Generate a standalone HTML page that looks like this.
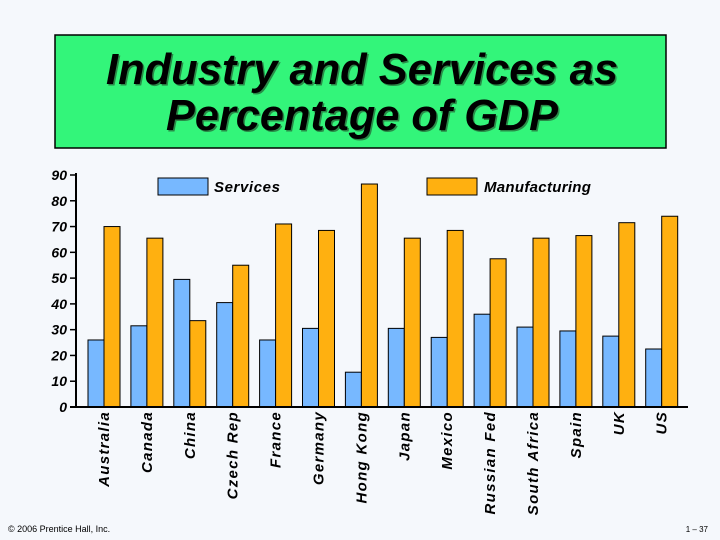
<!DOCTYPE html>
<html><head><meta charset="utf-8"><style>
html,body{margin:0;padding:0;background:#f5f8fc;}
svg{display:block;font-family:"Liberation Sans",sans-serif;}
</style></head><body>
<svg id="chart" width="720" height="540" viewBox="0 0 720 540">
<rect x="0" y="0" width="720" height="540" fill="#f5f8fc"/>
<rect x="55" y="35" width="611" height="113" fill="#33f57a" stroke="#000" stroke-width="1.5"/>
<g font-weight="bold" font-style="italic" font-size="44" text-anchor="middle">
<text x="362" y="84" fill="#2a8a48" transform="translate(1.5,1.5)" textLength="512" lengthAdjust="spacingAndGlyphs">Industry and Services as</text>
<text x="362" y="84" fill="#000" textLength="512" lengthAdjust="spacingAndGlyphs">Industry and Services as</text>
<text x="362" y="130" fill="#2a8a48" transform="translate(1.5,1.5)" textLength="392" lengthAdjust="spacingAndGlyphs">Percentage of GDP</text>
<text x="362" y="130" fill="#000" textLength="392" lengthAdjust="spacingAndGlyphs">Percentage of GDP</text>
</g>
<g id="bars"></g>
<g id="axes"></g>
<g>
<rect x="158" y="178" width="50" height="17" fill="#77b8ff" stroke="#000"/>
<text x="214" y="192" font-size="15" letter-spacing="0.6" font-weight="bold" font-style="italic">Services</text>
<rect x="427" y="178" width="50" height="17" fill="#ffb010" stroke="#000"/>
<text x="484" y="192" font-size="15" letter-spacing="0.3" font-weight="bold" font-style="italic">Manufacturing</text>
</g>
<text x="8" y="532" font-size="9">© 2006 Prentice Hall, Inc.</text>
<text x="708" y="532" font-size="8" text-anchor="end">1 – 37</text>
</svg>
<script>
const categories=["Australia","Canada","China","Czech Rep","France","Germany","Hong Kong","Japan","Mexico","Russian Fed","South Africa","Spain","UK","US"];
const services=[26,31.5,49.5,40.5,26,30.5,13.5,30.5,27,36,31,29.5,27.5,22.5];
const manufacturing=[70,65.5,33.5,55,71,68.5,86.5,65.5,68.5,57.5,65.5,66.5,71.5,74];
const yTicks=[0,10,20,30,40,50,60,70,80,90];
const NS="http://www.w3.org/2000/svg";
const y0=407,yTop=175,yMax=90;
const yScale=v=>y0-(v/yMax)*(y0-yTop);
const gStart=88,gStep=42.9,bw=16;
const xScale=i=>gStart+i*gStep;
const bars=document.getElementById('bars');
const axes=document.getElementById('axes');
function mk(tag,attrs,parent){const e=document.createElementNS(NS,tag);for(const k in attrs)e.setAttribute(k,attrs[k]);parent.appendChild(e);return e;}
categories.forEach((c,i)=>{
  const x=xScale(i);
  const b1=mk('rect',{x:x,y:yScale(services[i]),width:bw,height:y0-yScale(services[i]),fill:'#77b8ff',stroke:'#000','stroke-width':1},bars);
  
  
  const b2=mk('rect',{x:x+bw,y:yScale(manufacturing[i]),width:bw,height:y0-yScale(manufacturing[i]),fill:'#ffb010',stroke:'#000','stroke-width':1},bars);
  
  
  const t=mk('text',{x:0,y:0,transform:`translate(${x+bw+5},${y0+4}) rotate(-90)`,'font-size':15,'letter-spacing':1.3,'font-weight':'bold','font-style':'italic','text-anchor':'end'},axes);
  t.textContent=c;
  
  
});
const yl=mk('line',{x1:76,y1:yTop-2,x2:76,y2:y0,stroke:'#000','stroke-width':2},axes);


const xl=mk('line',{x1:70,y1:y0,x2:688,y2:y0,stroke:'#000','stroke-width':2},axes);


yTicks.forEach(v=>{
  const y=yScale(v);
  const tk=mk('line',{x1:70,y1:y,x2:76,y2:y,stroke:'#000','stroke-width':1.5},axes);
  
  
  const t=mk('text',{x:67,y:y+5,'font-size':14,'font-weight':'bold','font-style':'italic','text-anchor':'end'},axes);
  t.textContent=v;
  
  
});
</script>
</body></html>
